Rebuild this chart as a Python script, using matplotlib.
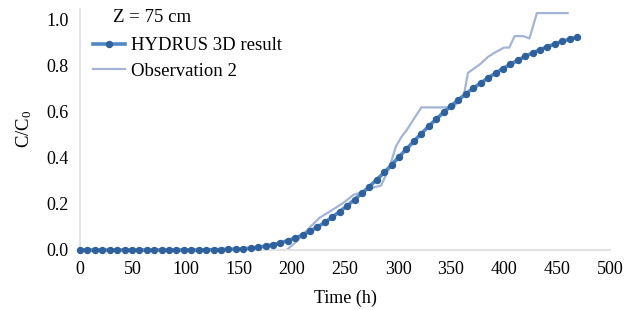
import numpy as np
import matplotlib
matplotlib.use("Agg")
import matplotlib.pyplot as plt

plt.rcParams['font.family'] = ['Liberation Serif', 'DejaVu Serif']
plt.rcParams['mathtext.fontset'] = 'custom'
plt.rcParams['mathtext.rm'] = 'Liberation Serif'
plt.rcParams['mathtext.it'] = 'Liberation Serif:italic'
plt.rcParams['mathtext.default'] = 'regular'

# HYDRUS 3D simulated values, sampled every 7 h from 0 to 469 h
hydrus_time = np.arange(0, 469.1, 7)
hydrus_c = [0, 0, 0, 0, 0, 0, 0, 0, 0, 0,
            0, 0, 0, 0, 0, 0, 0,
            0.001, 0.001, 0.002, 0.003, 0.004, 0.005, 0.008, 0.012, 0.017, 0.023,
            0.031, 0.041, 0.052, 0.065, 0.082, 0.100, 0.120, 0.143, 0.167, 0.192,
            0.219, 0.247, 0.276, 0.306, 0.337, 0.370, 0.405, 0.439, 0.473, 0.506,
            0.538, 0.569, 0.598, 0.626, 0.653, 0.679, 0.703, 0.726, 0.748, 0.769,
            0.789, 0.807, 0.825, 0.842, 0.857, 0.871, 0.884, 0.896, 0.907, 0.917,
            0.926]

# Observation 2
obs_time = [0, 195, 205, 215, 226, 240, 250, 258, 265, 275, 284, 292, 298, 303,
            308, 315, 322, 330, 340, 352, 358, 362, 366, 372, 378, 385, 392, 400,
            405, 410, 418, 424, 431, 436, 448, 460]
obs_c = [0, 0, 0.04, 0.09, 0.14, 0.18, 0.21, 0.24, 0.25, 0.27, 0.28, 0.36, 0.45, 0.49,
         0.52, 0.57, 0.62, 0.62, 0.62, 0.62, 0.65, 0.67, 0.77, 0.79, 0.81, 0.84, 0.86, 0.88,
         0.88, 0.93, 0.93, 0.92, 1.03, 1.03, 1.03, 1.03]

x_ticks = [0, 50, 100, 150, 200, 250, 300, 350, 400, 450, 500]
y_ticks = [0.0, 0.2, 0.4, 0.6, 0.8, 1.0]

fig = plt.figure(figsize=(6.28, 3.10), dpi=100)
ax = fig.add_axes([80/628, 1-250/310, 530/628, 241.5/310])

ax.plot(obs_time, obs_c, color='#a3b4d6', lw=1.6, label='Observation 2', zorder=2)
ax.plot(hydrus_time, hydrus_c, color='#4f88c6', lw=2.6, marker='o', ms=4.3,
        mfc='#2f619c', mec='#2f619c', label='HYDRUS 3D result', zorder=3,
        clip_on=False)

ax.set_xlim(0, 500)
ax.set_ylim(0, 1.05)
ax.set_xticks(x_ticks)
ax.set_yticks(y_ticks)
ax.set_yticklabels([f'{v:.1f}' for v in y_ticks])
ax.tick_params(length=0, labelsize=13, pad=8)

for s in ['top', 'right']:
    ax.spines[s].set_visible(False)
ax.spines['left'].set_color('#e3e3e3')
ax.spines['left'].set_linewidth(1.5)
ax.spines['bottom'].set_color('#e3e3e3')
ax.spines['bottom'].set_linewidth(1.5)

ax.set_xlabel('Time (h)', fontsize=13, labelpad=8)
ax.set_ylabel('C/C$_0$', fontsize=13.5, labelpad=9)

handles, labels = ax.get_legend_handles_labels()
order = [1, 0]
leg = ax.legend([handles[i] for i in order], [labels[i] for i in order],
                loc='upper left', bbox_to_anchor=(13/530, 0.882), frameon=False,
                fontsize=13.5, handlelength=1.7, handletextpad=0.32,
                labelspacing=0.47, borderaxespad=0, borderpad=0)
fig.text(152/628, 1-18/310, 'Z = 75 cm', ha='center', va='center', fontsize=13.5)

fig.savefig('out.png', dpi=100)
